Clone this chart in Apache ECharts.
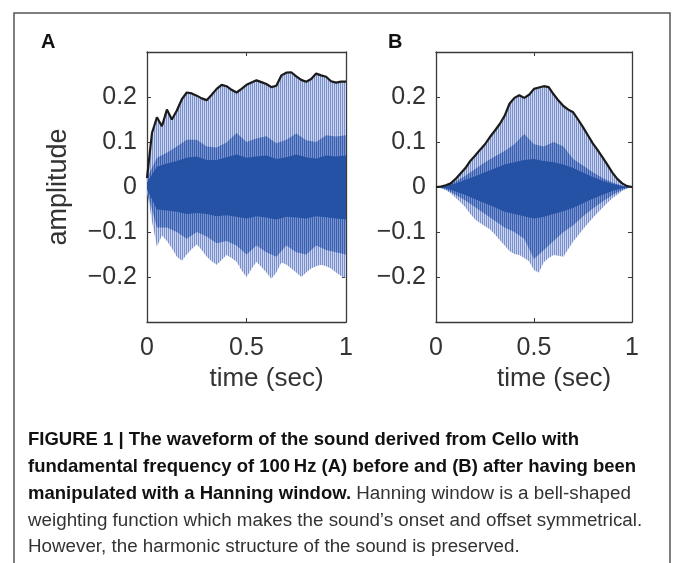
<!DOCTYPE html>
<html>
<head>
<meta charset="utf-8">
<script src="https://cdn.jsdelivr.net/npm/echarts@6/dist/echarts.min.js"></script>
<style>
html,body{margin:0;padding:0;background:#fff;}
#chart{width:673px;height:563px;}
</style>
</head>
<body>
<div id="chart"></div>
<script>
// ---------- data ----------
var tFine = [0,0.025,0.05,0.075,0.1,0.125,0.15,0.175,0.2,0.225,0.25,0.275,0.3,0.325,0.35,0.375,0.4,0.425,0.45,0.475,0.5,0.525,0.55,0.575,0.6,0.625,0.65,0.675,0.7,0.725,0.75,0.775,0.8,0.825,0.85,0.875,0.9,0.925,0.95,0.975,1];
var tCoarse = [0,0.05,0.1,0.15,0.2,0.25,0.3,0.35,0.4,0.45,0.5,0.55,0.6,0.65,0.7,0.75,0.8,0.85,0.9,0.95,1];

// Panel A (before windowing)
var upperA = [0.02,0.12,0.155,0.135,0.172,0.15,0.17,0.195,0.21,0.208,0.203,0.197,0.193,0.205,0.218,0.227,0.224,0.216,0.21,0.218,0.227,0.232,0.237,0.233,0.229,0.222,0.225,0.248,0.254,0.255,0.246,0.238,0.234,0.24,0.252,0.248,0.245,0.235,0.232,0.234,0.234];
var lowerA = [-0.01,-0.076,-0.133,-0.108,-0.12,-0.136,-0.155,-0.164,-0.15,-0.138,-0.128,-0.14,-0.155,-0.165,-0.173,-0.162,-0.151,-0.158,-0.166,-0.185,-0.2,-0.182,-0.166,-0.178,-0.19,-0.204,-0.19,-0.168,-0.172,-0.181,-0.19,-0.2,-0.19,-0.181,-0.176,-0.173,-0.176,-0.181,-0.19,-0.198,-0.202];
var midUpperA = [0.02,0.065,0.076,0.09,0.105,0.105,0.09,0.088,0.099,0.12,0.1,0.108,0.113,0.097,0.105,0.119,0.104,0.1,0.115,0.112,0.115];
var midLowerA = [-0.01,-0.09,-0.09,-0.1,-0.115,-0.1,-0.11,-0.125,-0.12,-0.13,-0.15,-0.13,-0.145,-0.155,-0.13,-0.145,-0.15,-0.13,-0.14,-0.145,-0.15];
var coreUpperA = [0.01,0.045,0.052,0.058,0.065,0.068,0.06,0.06,0.066,0.072,0.065,0.068,0.07,0.062,0.066,0.072,0.066,0.063,0.07,0.068,0.07];
var coreLowerA = [-0.005,-0.05,-0.052,-0.055,-0.06,-0.058,-0.06,-0.065,-0.063,-0.066,-0.07,-0.065,-0.068,-0.072,-0.066,-0.068,-0.07,-0.065,-0.067,-0.07,-0.072];

// Panel B (after Hanning window)
var upperB = [0,0.001,0.004,0.008,0.018,0.03,0.042,0.058,0.07,0.083,0.095,0.111,0.125,0.14,0.158,0.185,0.198,0.204,0.198,0.205,0.218,0.221,0.224,0.222,0.206,0.192,0.18,0.172,0.166,0.15,0.133,0.115,0.097,0.082,0.066,0.049,0.032,0.018,0.008,0.002,0];
var lowerB = [0,-0.002,-0.007,-0.014,-0.024,-0.034,-0.045,-0.06,-0.072,-0.08,-0.087,-0.094,-0.105,-0.118,-0.13,-0.142,-0.149,-0.151,-0.158,-0.165,-0.185,-0.19,-0.167,-0.158,-0.151,-0.153,-0.155,-0.138,-0.121,-0.108,-0.094,-0.081,-0.069,-0.057,-0.046,-0.035,-0.025,-0.017,-0.009,-0.003,0];
var midUpperB = [0,0.003,0.012,0.025,0.04,0.055,0.068,0.08,0.095,0.118,0.095,0.09,0.1,0.09,0.062,0.048,0.033,0.02,0.01,0.003,0];
var midLowerB = [0,-0.005,-0.017,-0.03,-0.045,-0.06,-0.075,-0.09,-0.1,-0.115,-0.16,-0.14,-0.12,-0.1,-0.085,-0.065,-0.048,-0.032,-0.018,-0.006,0];
var coreUpperB = [0,0.002,0.008,0.016,0.024,0.033,0.041,0.05,0.055,0.06,0.062,0.058,0.055,0.05,0.042,0.032,0.022,0.014,0.007,0.002,0];
var coreLowerB = [0,-0.003,-0.01,-0.018,-0.027,-0.036,-0.045,-0.055,-0.06,-0.065,-0.07,-0.066,-0.06,-0.054,-0.046,-0.036,-0.026,-0.017,-0.009,-0.003,0];

var xTicks = [0, 0.5, 1];
var yTicks = [-0.2, -0.1, 0, 0.1, 0.2];
var panelLabels = ['A', 'B'];
var xName = 'time (sec)';
var yName = 'amplitude';
var captionLines = [
  [{t:'FIGURE 1 | The waveform of the sound derived from Cello with', b:true}],
  [{t:'fundamental frequency of 100\u2009Hz (A) before and (B) after having been', b:true}],
  [{t:'manipulated with a Hanning window.', b:true},{t:' Hanning window is a bell-shaped', b:false}],
  [{t:'weighting function which makes the sound\u2019s onset and offset symmetrical.', b:false}],
  [{t:'However, the harmonic structure of the sound is preserved.', b:false}]
];

// ---------- styling helpers ----------
function stripes(c1, c2) {
  var cv = document.createElement('canvas');
  cv.width = 2; cv.height = 4;
  var ctx = cv.getContext('2d');
  ctx.fillStyle = c1; ctx.fillRect(0, 0, 1, 4);
  ctx.fillStyle = c2; ctx.fillRect(1, 0, 1, 4);
  return { image: cv, repeat: 'repeat' };
}
var outerFill = stripes('#7a90cc', '#ccd5ee');
var midFill = stripes('#3560b0', '#7d93cf');
var coreFill = '#2652a6';

function band(idx, times, lower, upper, fill) {
  return {
    type: 'custom',
    xAxisIndex: idx * 2,
    yAxisIndex: idx * 2,
    data: times.map(function (t, i) { return [t, lower[i], upper[i]]; }),
    silent: true,
    renderItem: function (params, api) {
      if (params.dataIndex !== 0) return null;
      var pts = [];
      for (var i = 0; i < times.length; i++) pts.push(api.coord([times[i], upper[i]]));
      for (var j = times.length - 1; j >= 0; j--) pts.push(api.coord([times[j], lower[j]]));
      return { type: 'polygon', shape: { points: pts }, style: { fill: fill, stroke: null } };
    }
  };
}
function envLine(idx, times, vals) {
  return {
    type: 'line', xAxisIndex: idx * 2, yAxisIndex: idx * 2,
    data: times.map(function (t, i) { return [t, vals[i]]; }),
    showSymbol: false, symbol: 'none', silent: true,
    lineStyle: { color: '#1b1b1b', width: 2.2 }, z: 5
  };
}

var FONT = "'Liberation Sans', Arial, sans-serif";
var axisColor = '#3a3a3a';
function fmt(v) {
  if (Math.abs(v) < 1e-9) return '0';
  var s = String(Math.round(Math.abs(v) * 10) / 10);
  return v < 0 ? '\u2212' + s : s;
}
function xAxes(gi) {
  var base = {
    type: 'value', gridIndex: gi, min: 0, max: 1, interval: 0.5,
    axisLine: { show: true, onZero: false, lineStyle: { color: axisColor, width: 1.3 } },
    axisTick: { show: true, inside: true, length: 4, lineStyle: { color: axisColor, width: 1 } },
    splitLine: { show: false }
  };
  var bottom = Object.assign({}, base, {
    position: 'bottom',
    axisLabel: { show: true, margin: 14, fontSize: 25, color: '#333', fontFamily: FONT,
      formatter: function (v) { return xTicks.indexOf(v) >= 0 ? String(v) : ''; } },
    name: xName, nameLocation: 'middle', nameGap: 44,
    nameTextStyle: { fontSize: 26, color: '#333', fontFamily: FONT, padding: [0, 0, 0, 40] }
  });
  var top = Object.assign({}, base, { position: 'top', axisLabel: { show: false } });
  return [bottom, top];
}
function yAxes(gi, withName) {
  var base = {
    type: 'value', gridIndex: gi, min: -0.3, max: 0.3, interval: 0.1,
    axisLine: { show: true, onZero: false, lineStyle: { color: axisColor, width: 1.3 } },
    axisTick: { show: true, inside: true, length: 4, lineStyle: { color: axisColor, width: 1 } },
    splitLine: { show: false }
  };
  var left = Object.assign({}, base, {
    position: 'left',
    axisLabel: { show: true, margin: 10, fontSize: 25, color: '#333', fontFamily: FONT,
      showMinLabel: false, showMaxLabel: false,
      formatter: function (v) {
        var r = Math.round(v * 10) / 10;
        return yTicks.indexOf(r) >= 0 ? fmt(r) : '';
      } }
  });
  if (withName) {
    left.name = yName; left.nameLocation = 'middle'; left.nameGap = 75;
    left.nameTextStyle = { fontSize: 27, color: '#333', fontFamily: FONT };
  }
  var right = Object.assign({}, base, { position: 'right', axisLabel: { show: false } });
  return [left, right];
}

var xa = xAxes(0).concat(xAxes(1));
var ya = yAxes(0, true).concat(yAxes(1, false));

var series = [
  band(0, tFine, lowerA, upperA, outerFill),
  band(0, tCoarse, midLowerA, midUpperA, midFill),
  band(0, tCoarse, coreLowerA, coreUpperA, coreFill),
  envLine(0, tFine, upperA),
  band(1, tFine, lowerB, upperB, outerFill),
  band(1, tCoarse, midLowerB, midUpperB, midFill),
  band(1, tCoarse, coreLowerB, coreUpperB, coreFill),
  envLine(1, tFine, upperB)
];

var CAP = "'Liberation Sans', Arial, sans-serif";
var graphics = [
  { type: 'rect', shape: { x: 14, y: 13, width: 656, height: 570 },
    style: { fill: 'none', stroke: '#555', lineWidth: 1.5 }, silent: true },
  { type: 'text', x: 41, y: 42, style: { text: panelLabels[0], font: "bold 20px 'Liberation Sans', Arial", fill: '#111', verticalAlign: 'middle' } },
  { type: 'text', x: 388, y: 42, style: { text: panelLabels[1], font: "bold 20px 'Liberation Sans', Arial", fill: '#111', verticalAlign: 'middle' } }
];
var lineYs = [440, 467, 494, 521, 547];
captionLines.forEach(function (parts, li) {
  var rich = {};
  var txt = parts.map(function (p, k) {
    rich['p' + k] = { fontFamily: CAP, fontSize: p.b ? 18.5 : 18.8, fontWeight: p.b ? 'bold' : 'normal', fill: p.b ? '#111' : '#333' };
    return '{p' + k + '|' + p.t + '}';
  }).join('');
  graphics.push({ type: 'text', x: 28, y: lineYs[li], silent: true,
    style: { text: txt, rich: rich, verticalAlign: 'middle' } });
});

var chart = echarts.init(document.getElementById('chart'), null, { renderer: 'canvas' });
chart.setOption({
  animation: false,
  backgroundColor: '#fff',
  grid: [
    { left: 147, top: 52, width: 199, height: 270, show: false },
    { left: 436, top: 52, width: 196, height: 270, show: false }
  ],
  xAxis: xa,
  yAxis: ya,
  series: series,
  graphic: graphics
});
</script>
</body>
</html>
